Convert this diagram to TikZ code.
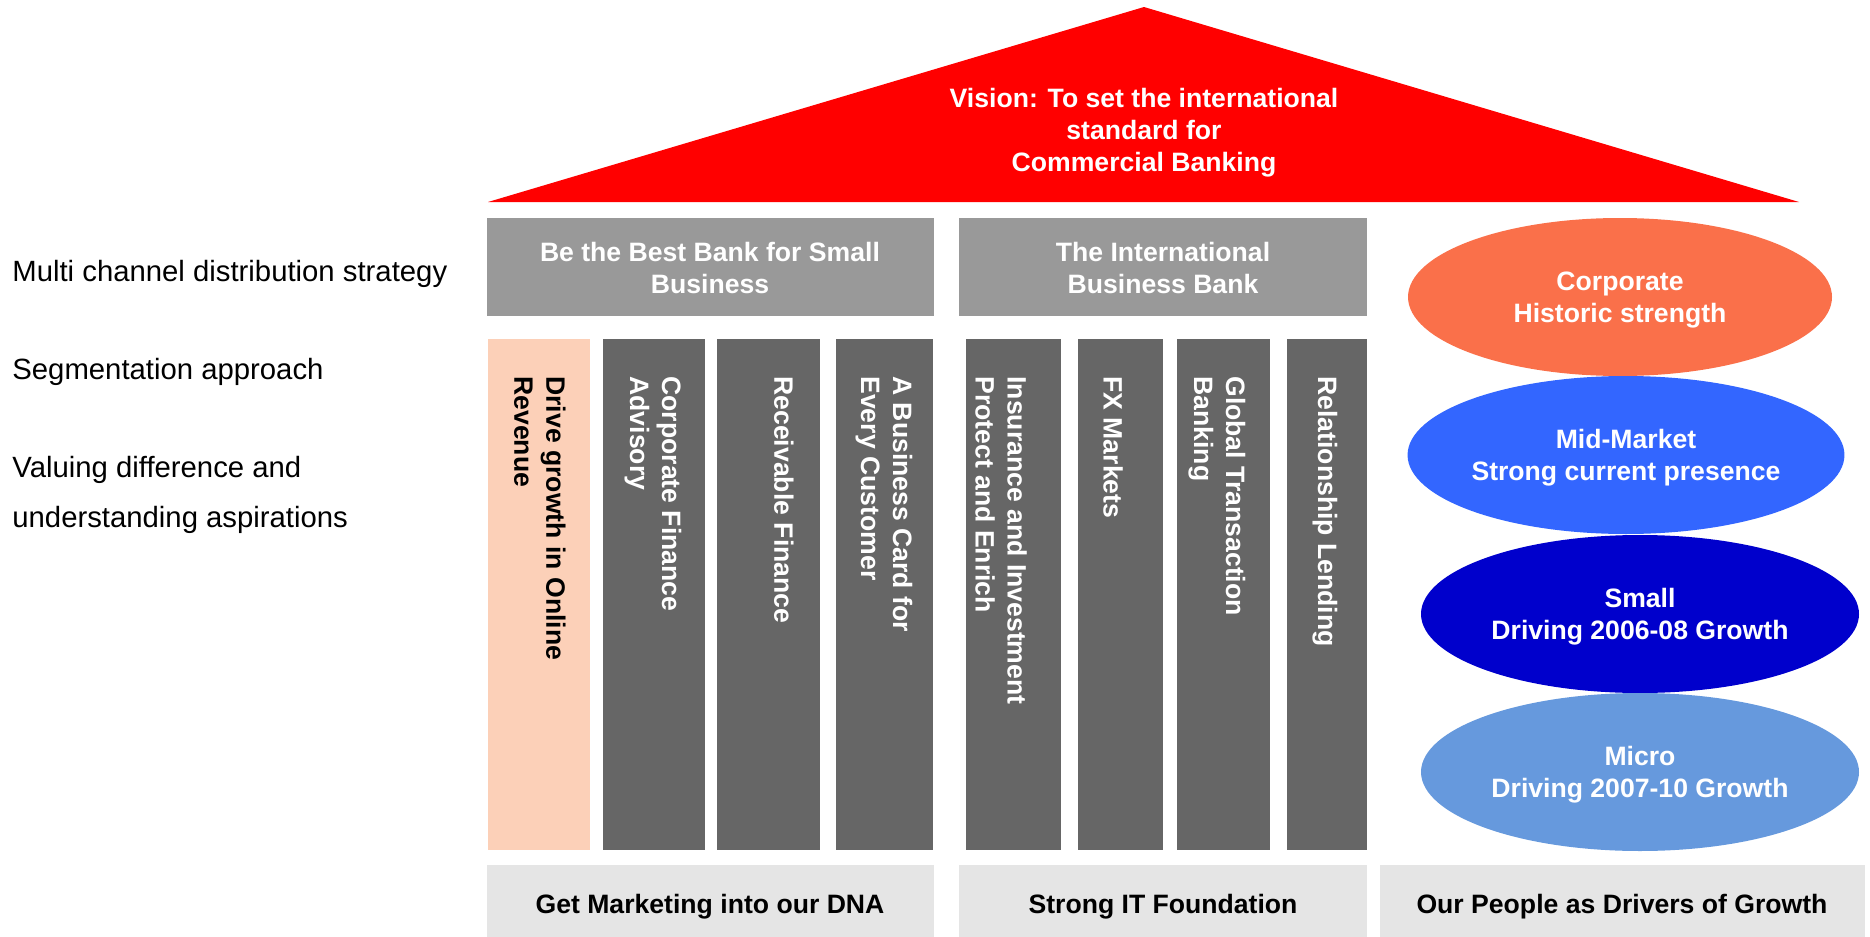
\documentclass[tikz,border=0pt]{standalone}
\usepackage{fontspec}
\setmainfont{Liberation Sans}
\usetikzlibrary{shapes.geometric}
\definecolor{roofred}{RGB}{255,0,0}
\definecolor{headgray}{RGB}{153,153,153}
\definecolor{pillargray}{RGB}{102,102,102}
\definecolor{basegray}{RGB}{229,229,229}
\definecolor{peach}{RGB}{252,208,184}
\definecolor{corpcol}{RGB}{250,112,74}
\definecolor{midcol}{RGB}{51,102,255}
\definecolor{smallcol}{RGB}{0,0,204}
\definecolor{microcol}{RGB}{102,153,221}
\begin{document}
\begin{tikzpicture}[x=0.5pt,y=-0.5pt,
  lbl/.style={font=\fontsize{14.65}{25}\selectfont, anchor=west, align=left, inner sep=0pt},
  bold/.style={font=\fontsize{13.3}{16}\selectfont\bfseries, align=center, inner sep=0pt},
  pillar/.style={bold, text=white, rotate=-90, anchor=west, align=left},
  seg/.style={bold, text=white, ellipse, text depth=0pt, minimum height=79pt}]
\useasboundingbox (0,0) rectangle (1870,937);
\fill[roofred] (488,202) -- (1144,7) -- (1799,202) -- cycle;
\node[bold, text=white] (vision) at (1144,133) {Vision: To set the international\\standard for\\Commercial Banking};
\node[lbl] (multi) at (12,273.5) {Multi channel distribution strategy};
\node[lbl] (segm) at (12,371.5) {Segmentation approach};
\node[lbl] (valuing) at (12,494.5) {Valuing difference and\\understanding aspirations};
\fill[headgray] (487,218) rectangle (934,316);
\fill[headgray] (959,218) rectangle (1367,316);
\node[bold, text=white] (bestbank) at (710,268) {Be the Best Bank for Small\\Business};
\node[bold, text=white] (intbank) at (1163,268) {The International\\Business Bank};
\fill[peach] (488,339) rectangle (590,850);
\fill[pillargray] (603,339) rectangle (705,850);
\fill[pillargray] (717,339) rectangle (820,850);
\fill[pillargray] (836,339) rectangle (933,850);
\fill[pillargray] (966,339) rectangle (1061,850);
\fill[pillargray] (1078,339) rectangle (1163,850);
\fill[pillargray] (1177,339) rectangle (1270,850);
\fill[pillargray] (1287,339) rectangle (1367,850);
\node[pillar, text=black] (online) at (540,376) {Drive growth in Online\\Revenue};
\node[pillar] (corpfin) at (653,376) {Corporate Finance\\Advisory};
\node[pillar] (receivable) at (784,376) {Receivable Finance};
\node[pillar] (buscard) at (884,376) {A Business Card for\\Every Customer};
\node[pillar] (insurance) at (1001,376) {Insurance and Investment\\Protect and Enrich};
\node[pillar] (fx) at (1113,376) {FX Markets};
\node[pillar] (gtb) at (1217,376) {Global Transaction\\Banking};
\node[pillar] (lending) at (1325,376) {Relationship Lending};
\node[seg, fill=corpcol, minimum width=212pt] (corporate) at (1620,297) {Corporate\\Historic strength};
\node[seg, fill=midcol, minimum width=218pt] (midmarket) at (1626,455) {Mid-Market\\Strong current presence};
\node[seg, fill=smallcol, minimum width=219pt] (small) at (1640,614) {Small\\Driving 2006-08 Growth};
\node[seg, fill=microcol, minimum width=219pt] (micro) at (1640,772) {Micro\\Driving 2007-10 Growth};
\fill[basegray] (487,865) rectangle (934,937);
\fill[basegray] (959,865) rectangle (1367,937);
\fill[basegray] (1380,865) rectangle (1865,937);
\node[bold] (marketing) at (710,906.5) {Get Marketing into our DNA};
\node[bold] (itbase) at (1163,906.5) {Strong IT Foundation};
\node[bold] (people) at (1622,906.5) {Our People as Drivers of Growth};
\end{tikzpicture}
\end{document}
